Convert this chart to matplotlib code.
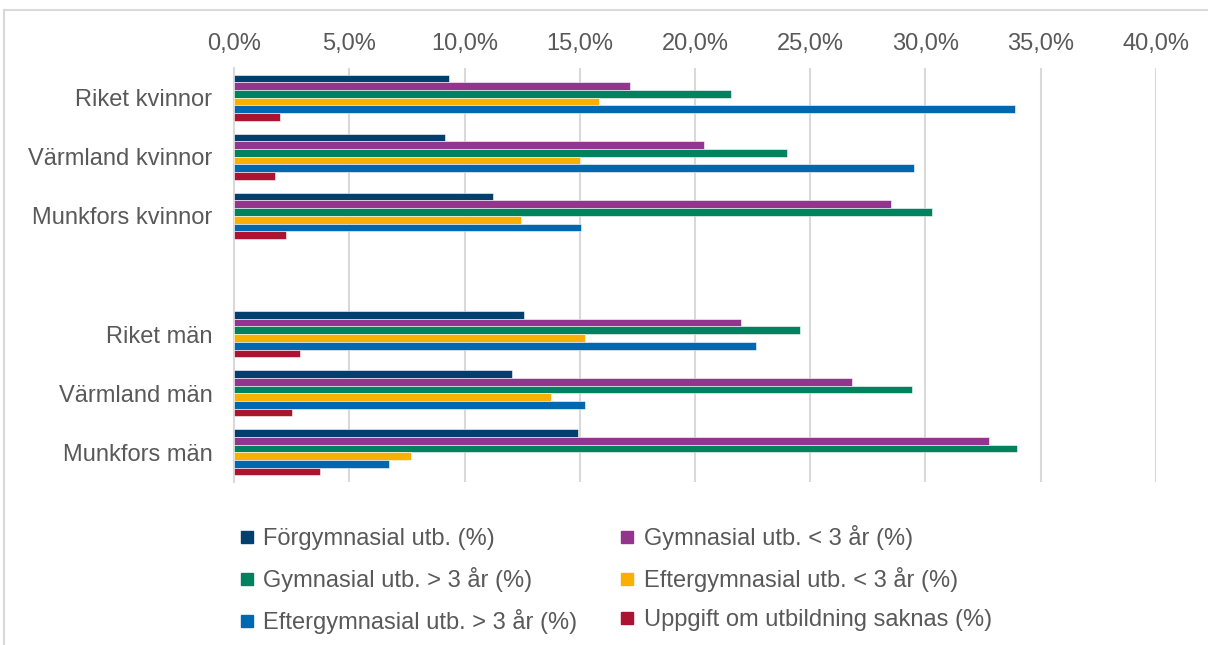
import matplotlib
matplotlib.use("Agg")
import matplotlib.pyplot as plt
from matplotlib.lines import Line2D
import numpy as np

categories = ["Riket kvinnor", "Värmland kvinnor", "Munkfors kvinnor", "",
              "Riket män", "Värmland män", "Munkfors män"]
series_names = ["Förgymnasial utb. (%)", "Gymnasial utb. < 3 år (%)",
                "Gymnasial utb. > 3 år (%)", "Eftergymnasial utb. < 3 år (%)",
                "Eftergymnasial utb. > 3 år (%)", "Uppgift om utbildning saknas (%)"]
forgymn = [9.33, 9.16, 11.24, np.nan, 12.57, 12.08, 14.94]
gymn_lt3 = [17.19, 20.40, 28.49, np.nan, 21.98, 26.83, 32.77]
gymn_gt3 = [21.56, 24.00, 30.27, np.nan, 24.56, 29.40, 33.95]
efter_lt3 = [15.85, 15.00, 12.44, np.nan, 15.21, 13.77, 7.66]
efter_gt3 = [33.90, 29.48, 15.07, np.nan, 22.64, 15.23, 6.72]
saknas = [1.99, 1.78, 2.27, np.nan, 2.85, 2.51, 3.73]
tick_values = [0, 5, 10, 15, 20, 25, 30, 35, 40]

series = [forgymn, gymn_lt3, gymn_gt3, efter_lt3, efter_gt3, saknas]
colors = ["#003F6E", "#93358D", "#00825F", "#F9B000", "#0068B1", "#AB1330"]

plt.rcParams['font.family'] = ['Liberation Sans', 'DejaVu Sans']
text_color = "#595959"
grid_color = "#D9D9D9"
fs = 17

W, H = 1208, 645
fig = plt.figure(figsize=(W / 100, H / 100), dpi=100)
ax = fig.add_axes([234 / W, 1 - 482 / H, (1156 - 234) / W, (482 - 68) / H])

y = np.arange(len(categories))
h = 0.13
for k, (vals, col) in enumerate(zip(series, colors)):
    ax.barh(y + (k - 2.5) * h, vals, height=h, color=col, label=series_names[k],
            edgecolor="white", linewidth=0.4, zorder=3)

ax.set_xlim(0, 40)
ax.set_ylim(len(categories) - 0.5, -0.5)
ax.set_yticks(y)
ax.set_yticklabels(categories)
ax.set_xticks(tick_values)
ax.set_xticklabels([f"{v:.1f}".replace(".", ",") + "%" for v in tick_values])
ax.xaxis.tick_top()
ax.tick_params(axis='x', length=0, pad=9.7, labelsize=fs, labelcolor=text_color)
ax.tick_params(axis='y', length=0, pad=15.5, labelsize=fs, labelcolor=text_color)
ax.grid(axis='x', color=grid_color, linewidth=1.5, zorder=0)
for s in ["top", "right", "bottom"]:
    ax.spines[s].set_visible(False)
ax.spines["left"].set_color(grid_color)
ax.spines["left"].set_linewidth(1.5)

handles = [Line2D([], [], marker='s', linestyle='none', markersize=8,
                  markerfacecolor=c, markeredgecolor=c) for c in colors]
order = [0, 2, 4, 1, 3, 5]
leg = fig.legend([handles[i] for i in order], [series_names[i] for i in order],
                 ncol=2, loc='upper left', bbox_to_anchor=(241 / W, 1 - 525 / H),
                 frameon=False, fontsize=fs, handlelength=0.5, handletextpad=0.45,
                 columnspacing=1.85, labelspacing=0.72, borderpad=0, borderaxespad=0)
for t in leg.get_texts():
    t.set_color(text_color)

# outer chart border (partially cropped)
fig.add_artist(Line2D([4 / W, 1.01], [1 - 10 / H, 1 - 10 / H], color=grid_color,
                      linewidth=1.5, transform=fig.transFigure))
fig.add_artist(Line2D([4 / W, 4 / W], [1 - 10 / H, -0.01], color=grid_color,
                      linewidth=1.5, transform=fig.transFigure))

fig.savefig("out.png", dpi=100)
